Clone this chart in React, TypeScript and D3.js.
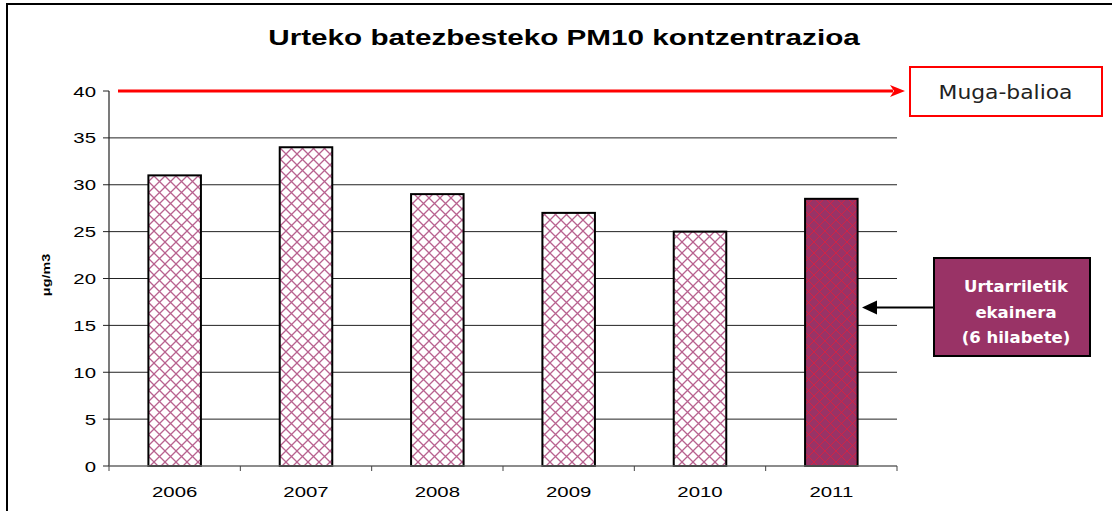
import React from "react";
import * as d3 from "d3";

const years = ["2006", "2007", "2008", "2009", "2010", "2011"];
const values = [31, 34, 29, 27, 25, 28.5];
const highlighted = [false, false, false, false, false, true];
const yTicks = [0, 5, 10, 15, 20, 25, 30, 35, 40];
const limitValue = 40;
const title = "Urteko batezbesteko PM10 kontzentrazioa";
const yLabel = "μg/m3";
const limitLabel = "Muga-balioa";
const noteLines = ["Urtarriletik", "ekainera", "(6 hilabete)"];

const W = 1112;
const H = 511;
const plot = { left: 109, right: 897, top: 91, bottom: 466 };
const SX = 1.36;

function SText(props: {
  x: number;
  y: number;
  sx?: number;
  anchor?: string;
  size: number;
  family: string;
  weight?: string;
  fill?: string;
  children: React.ReactNode;
}) {
  const sx = props.sx ?? SX;
  return (
    <text
      transform={`translate(${props.x},${props.y}) scale(${sx},1)`}
      textAnchor={props.anchor ?? "middle"}
      fontSize={props.size}
      fontFamily={props.family}
      fontWeight={props.weight ?? "normal"}
      fill={props.fill ?? "#000"}
    >
      {props.children}
    </text>
  );
}

export default function App() {
  const x = d3
    .scaleBand<string>()
    .domain(years)
    .range([plot.left, plot.right])
    .paddingInner(0.6)
    .paddingOuter(0.3);
  const y = d3.scaleLinear().domain([0, 40]).range([plot.bottom, plot.top]);
  const step = x.step();
  const boundaries = d3.range(years.length + 1).map((i) => plot.left + i * step);
  const gothic = "'DejaVu Sans', sans-serif";
  const arial = "'Liberation Sans', Arial, sans-serif";
  const ly = y(limitValue);
  const arrowY = y(16.9);

  return (
    <svg
      width={W}
      height={H}
      style={{ position: "absolute", left: 0, top: 0, background: "#fff" }}
    >
      <defs>
        <pattern id="hatch" patternUnits="userSpaceOnUse" width={11} height={11}>
          <rect width={11} height={11} fill="#ffffff" />
          <path d="M0,0 L11,11 M11,0 L0,11" stroke="#b8628f" strokeWidth={1.3} />
        </pattern>
        <pattern id="hatch2" patternUnits="userSpaceOnUse" width={11} height={11}>
          <rect width={11} height={11} fill="#993366" />
          <path d="M0,0 L11,11 M11,0 L0,11" stroke="#e0203c" strokeWidth={0.8} />
        </pattern>
      </defs>
      <rect x={7} y={4} width={W + 20} height={H + 20} fill="#fff" stroke="#000" strokeWidth={2} />

      <SText x={564} y={45} sx={1.38} family={arial} weight="bold" size={21.5}>
        {title}
      </SText>

      {/* gridlines */}
      {yTicks.filter((t) => t > 0 && t < 40).map((t) => (
        <line key={t} x1={plot.left} x2={plot.right} y1={y(t)} y2={y(t)} stroke="#222" strokeWidth={1} />
      ))}

      {/* y axis */}
      <line x1={plot.left} x2={plot.left} y1={plot.top} y2={plot.bottom} stroke="#222" strokeWidth={1.2} />
      {yTicks.map((t) => (
        <g key={t}>
          <line x1={plot.left - 6} x2={plot.left} y1={y(t)} y2={y(t)} stroke="#222" strokeWidth={1} />
          <SText x={96} y={y(t) + 5.5} anchor="end" family={arial} size={15}>
            {t}
          </SText>
        </g>
      ))}
      <text
        transform={`translate(50,${275}) rotate(-90) scale(1.25,1)`}
        textAnchor="middle"
        fontFamily={arial}
        fontWeight="bold"
        fontSize={11.5}
      >
        {yLabel}
      </text>

      {/* bars */}
      {years.map((yr, i) => (
        <rect
          key={yr}
          x={x(yr)}
          y={y(values[i])}
          width={x.bandwidth()}
          height={plot.bottom - y(values[i])}
          fill={highlighted[i] ? "url(#hatch2)" : "url(#hatch)"}
          stroke="#000"
          strokeWidth={2}
        />
      ))}

      {/* x axis */}
      <line x1={plot.left} x2={plot.right} y1={plot.bottom} y2={plot.bottom} stroke="#666" strokeWidth={1.5} />
      {boundaries.map((b, i) => (
        <line key={i} x1={b} x2={b} y1={plot.bottom} y2={plot.bottom + 5} stroke="#444" strokeWidth={1} />
      ))}
      {years.map((yr) => (
        <SText
          key={yr}
          x={(x(yr) as number) + x.bandwidth() / 2}
          y={497}
          family={arial}
          size={15}
        >
          {yr}
        </SText>
      ))}

      {/* limit line */}
      <line x1={118} x2={893} y1={ly} y2={ly} stroke="#ff0000" strokeWidth={3} />
      <path d={`M905,${ly} L890,${ly - 6} L894,${ly} L890,${ly + 6} Z`} fill="#ff0000" />
      <rect x={910} y={67} width={192} height={49} fill="#fff" stroke="#ff0000" strokeWidth={2} />
      <SText x={1005.5} y={99} sx={1.12} family={gothic} size={19.5} fill="#222">
        {limitLabel}
      </SText>

      {/* annotation */}
      <line x1={934} x2={874} y1={arrowY} y2={arrowY} stroke="#000" strokeWidth={2} />
      <path d={`M862,${arrowY} L877,${arrowY - 7} L877,${arrowY + 7} Z`} fill="#000" />
      <rect x={934} y={258} width={156} height={98} fill="#993366" stroke="#000" strokeWidth={2} />
      {noteLines.map((l, i) => (
        <SText
          key={i}
          x={1016}
          y={292 + i * 25.5}
          sx={1}
          family={gothic}
          weight="bold"
          size={16.5}
          fill="#fff"
        >
          {l}
        </SText>
      ))}
    </svg>
  );
}
